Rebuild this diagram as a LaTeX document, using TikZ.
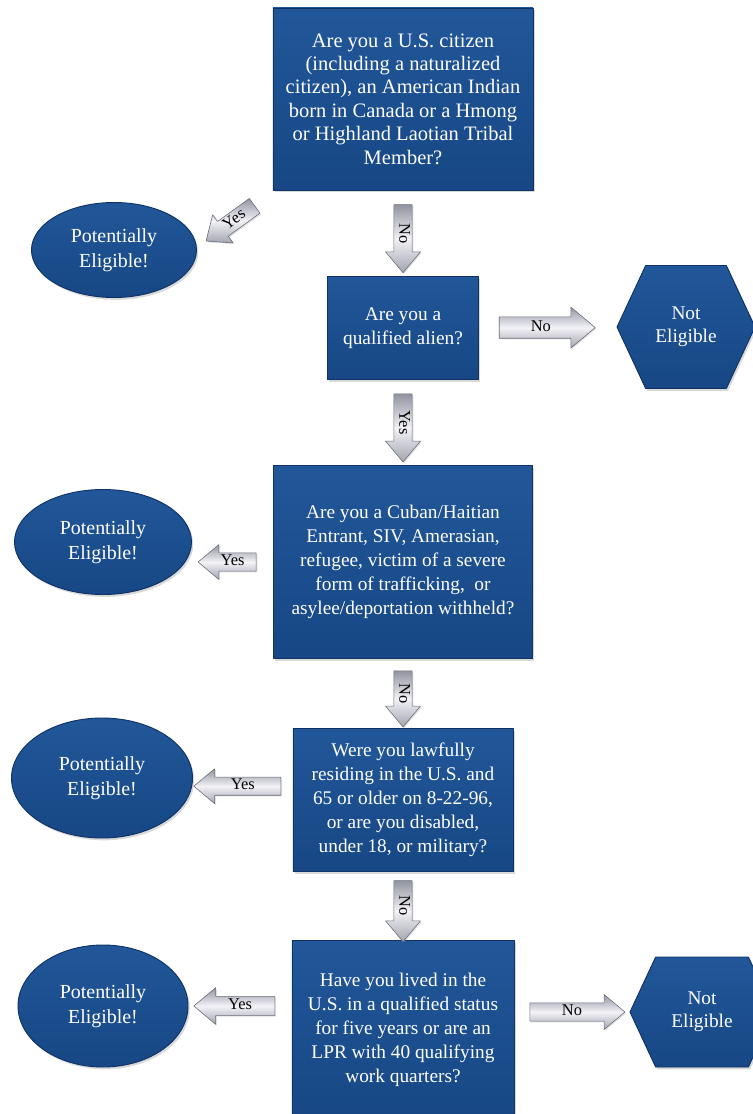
\documentclass[tikz,border=0pt]{standalone}
\usepackage{fontspec}
\setmainfont{Liberation Serif}
\usetikzlibrary{calc}
\usetikzlibrary{shapes.geometric,shapes.symbols,shapes.arrows}
\usetikzlibrary{shadows}

\begin{document}
\begin{tikzpicture}[line cap=round,line join=round,x=0.03cm,y=-0.03cm,
  qbox/.style={rectangle,draw=bluedge,line width=0.8pt,top color=bluetop,bottom color=bluebot,
    text=white,align=center,inner sep=0pt,font=\fontsize{16.5}{20.5}\selectfont,
    drop shadow={opacity=0.3,shadow xshift=1.5pt,shadow yshift=-2pt}},
  okoval/.style={ellipse,draw=bluedge,line width=0.8pt,top color=bluetop,bottom color=bluebot,
    text=white,align=center,inner sep=0pt,font=\fontsize{17}{21}\selectfont,
    drop shadow={opacity=0.3,shadow xshift=1.5pt,shadow yshift=-2pt}},
  nothex/.style={signal,signal to=west and east,signal pointer angle=130,draw=bluedge,line width=0.8pt,
    top color=bluetop,bottom color=bluebot,text=white,align=center,inner sep=0pt,
    font=\fontsize{16.5}{20}\selectfont,
    drop shadow={opacity=0.3,shadow xshift=1.5pt,shadow yshift=-2pt}},
  blockarr/.style={single arrow,draw=arredge,line width=0.5pt,top color=arrdark,bottom color=arrdark!85!white,
    middle color=arrlight,text=black,font=\fontsize{14}{14}\selectfont,inner xsep=2pt,inner ysep=2.5pt,
    text height=8pt,text depth=2pt,single arrow tip angle=80,
    drop shadow={opacity=0.25,shadow xshift=1pt,shadow yshift=-1pt}},
  downarr/.style={blockarr,rotate=-90},
  leftarr/.style={blockarr,shape border rotate=180},
  rightarr/.style={blockarr}]
\definecolor{bluetop}{rgb}{0.13,0.34,0.60}
\definecolor{bluebot}{rgb}{0.09,0.28,0.52}
\definecolor{bluedge}{rgb}{0.06,0.20,0.40}
\definecolor{arrdark}{rgb}{0.57,0.58,0.63}
\definecolor{arrlight}{rgb}{0.95,0.95,0.97}
\definecolor{arredge}{rgb}{0.42,0.43,0.48}
\useasboundingbox (0,0) rectangle (753,1114);
\clip (0,0) rectangle (753,1114);
% questions
\node[qbox,minimum width=7.8cm,minimum height=5.46cm,font=\fontsize{17.5}{20}\selectfont] (q1) at (403,99)
  {Are you a U.S. citizen\\(including a naturalized\\citizen), an American Indian\\born in Canada or a Hmong\\or Highland Laotian Tribal\\Member?};
\node[qbox,minimum width=4.53cm,minimum height=3.09cm] (q2) at (403,328)
  {Are you a\\qualified alien?};
\node[qbox,minimum width=7.77cm,minimum height=5.79cm] (q3) at (403,562)
  {Are you a Cuban/Haitian\\Entrant, SIV, Amerasian,\\refugee, victim of a severe\\form of trafficking,\ \ or\\asylee/deportation withheld?};
\node[qbox,minimum width=6.6cm,minimum height=4.29cm] (q4) at (403,800)
  {Were you lawfully\\residing in the U.S. and\\65 or older on 8-22-96,\\or are you disabled,\\under 18, or military?};
\node[qbox,minimum width=6.66cm,minimum height=5.4cm] (q5) at (403,1030)
  {Have you lived in the\\U.S. in a qualified status\\for five years or are an\\LPR with 40 qualifying\\work quarters?};
% answers
\node[okoval,minimum width=4.95cm,minimum height=2.85cm] (e1) at (114,250) {Potentially\\Eligible!};
\node[okoval,minimum width=5.31cm,minimum height=3.15cm] (e2) at (103,542) {Potentially\\Eligible!};
\node[okoval,minimum width=5.43cm,minimum height=3.6cm] (e3) at (102,778) {Potentially\\Eligible!};
\node[okoval,minimum width=5.1cm,minimum height=3.66cm] (e4) at (103,1006) {Potentially\\Eligible!};
\node[nothex,minimum width=4.14cm,minimum height=3.69cm] (h1) at (686,327) {Not\\Eligible};
\node[nothex,minimum width=4.32cm,minimum height=3.3cm] (h2) at (702,1012) {Not\\Eligible};
% connectors
\path (q1.south west) -- node[blockarr,rotate=36,shape border rotate=180,minimum height=1.8cm,minimum width=0.96cm] (a0) {Yes} (e1.east);
\path (q1.south) -- node[downarr,minimum height=2.04cm,minimum width=1.05cm] (a1) {No} (q2.north);
\path (q2.east) -- node[rightarr,pos=0.45,minimum height=2.88cm,minimum width=1.23cm] (a2) {No} (h1.west);
\path (q2.south) -- node[downarr,minimum height=2.04cm,minimum width=1.05cm] (a3) {Yes} (q3.north);
\path (q3.west) -- node[leftarr,minimum height=1.74cm,minimum width=0.9cm] (a4) {Yes} (q3.west -| e2.east);
\path (q3.south) -- node[downarr,minimum height=1.68cm,minimum width=1.0cm] (a5) {No} (q4.north);
\path (q4.west |- e3.east) -- node[leftarr,minimum height=2.61cm,minimum width=0.96cm,yshift=-7pt] (a6) {Yes} (e3.east);
\path (q4.south) -- node[downarr,minimum height=1.83cm,minimum width=0.95cm] (a7) {No} (q5.north);
\path (q5.west |- e4.east) -- node[leftarr,minimum height=2.43cm,minimum width=1.1cm] (a8) {Yes} (e4.east);
\path (q5.east |- h2.west) -- node[rightarr,minimum height=2.85cm,minimum width=1.05cm] (a9) {No} (h2.west);
\end{tikzpicture}
\end{document}
